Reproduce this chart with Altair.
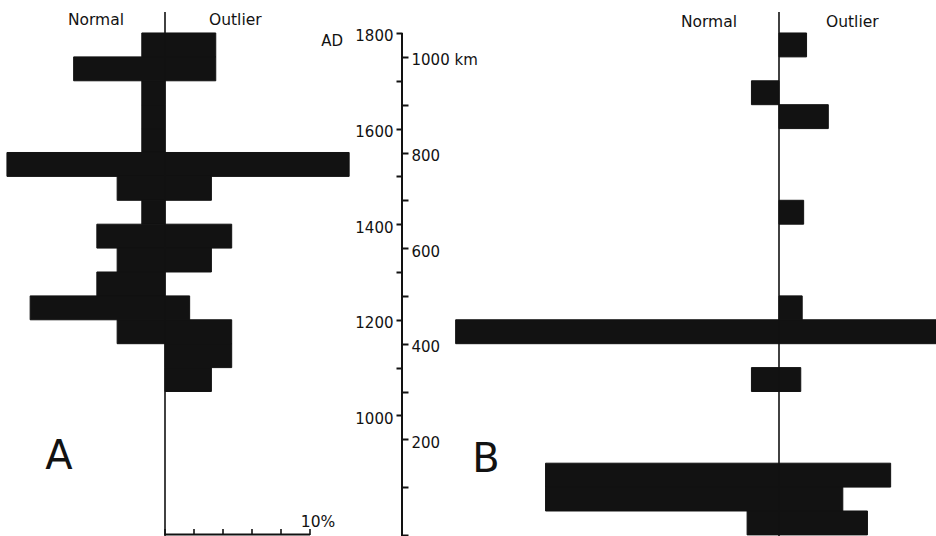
import altair as alt
import pandas as pd

# ---- data -----------------------------------------------------------------
BIN = 50  # bin length in years

# Panel A: start year of each 50-year bin, % "Normal" (left) and % "Outlier" (right)
a_start = [1750, 1700, 1650, 1600, 1550, 1500, 1450, 1400, 1350, 1300, 1250, 1200, 1150, 1100, 1050]
a_normal = [1.6, 6.3, 1.6, 1.6, 1.6, 10.9, 3.3, 1.6, 4.7, 3.3, 4.7, 9.3, 3.3, 0.0, 0.0]
a_outlier = [3.5, 3.5, 0.0, 0.0, 0.0, 12.7, 3.2, 0.0, 4.6, 3.2, 0.0, 1.7, 4.6, 4.6, 3.2]

# Panel B
b_start = [1750, 1650, 1600, 1400, 1200, 1150, 1050, 850, 800, 750]
b_normal = [0.0, 1.9, 0.0, 0.0, 0.0, 22.3, 1.9, 16.1, 16.1, 2.2]
b_outlier = [1.9, 0.0, 3.4, 1.7, 1.6, 12.0, 1.5, 7.7, 4.4, 6.1]

# central axis: years AD (left) and distance in km (right)
year_ticks = [1000, 1100, 1200, 1300, 1400, 1500, 1600, 1700, 1800]
km_ticks = [0, 100, 200, 300, 400, 500, 600, 700, 800, 900, 1000]
scale_bar_ticks = [0, 2, 4, 6, 8, 10]  # percent

# ---- layout / style -------------------------------------------------------
W, H = 936, 536
PX_PER_PCT = 14.5
A_CENTER_PX, B_CENTER_PX, AXIS_PX = 165, 779, 402
YEAR_MIN, YEAR_MAX = 747.7, 1869.0
KM_MIN, KM_MAX = -2.1, 1119.2
FONT = "DejaVu Sans"
INK = "#121212"

year_scale = alt.Scale(domain=[YEAR_MIN, YEAR_MAX], nice=False, zero=False)
km_scale = alt.Scale(domain=[KM_MIN, KM_MAX], nice=False, zero=False)


def pct_scale(center_px):
    return alt.Scale(
        domain=[-center_px / PX_PER_PCT, (W - center_px) / PX_PER_PCT],
        nice=False,
        zero=False,
    )


def bins_frame(start, normal, outlier):
    return pd.DataFrame(
        {
            "start": start,
            "end": [s + BIN for s in start],
            "lo": [-n for n in normal],
            "hi": outlier,
        }
    )


def panel(df, center_px, gap_left, gap_right, head_y, letter, letter_x, letter_y):
    xs = pct_scale(center_px)
    zero = pd.DataFrame({"v": [0.0]})

    bars = (
        alt.Chart(df)
        .mark_rect(color=INK, stroke=INK, strokeWidth=1, clip=True)
        .encode(
            x=alt.X("lo:Q", scale=xs, axis=None),
            x2="hi:Q",
            y=alt.Y("start:Q", scale=year_scale, axis=None),
            y2="end:Q",
        )
    )
    center = (
        alt.Chart(zero)
        .mark_rule(color=INK, strokeWidth=1.6)
        .encode(x=alt.X("v:Q", scale=xs, axis=None), y=alt.value(12), y2=alt.value(H))
    )
    normal_lbl = (
        alt.Chart(zero)
        .mark_text(text="Normal", align="right", baseline="middle", dx=-gap_left,
                   font=FONT, fontSize=15.5, color=INK)
        .encode(x=alt.X("v:Q", scale=xs, axis=None), y=alt.value(head_y))
    )
    outlier_lbl = (
        alt.Chart(zero)
        .mark_text(text="Outlier", align="left", baseline="middle", dx=gap_right,
                   font=FONT, fontSize=15.5, color=INK)
        .encode(x=alt.X("v:Q", scale=xs, axis=None), y=alt.value(head_y))
    )
    letter_mark = (
        alt.Chart(zero)
        .mark_text(text=letter, align="center", baseline="middle",
                   font=FONT, fontSize=40, color=INK)
        .encode(x=alt.value(letter_x), y=alt.value(letter_y))
    )
    return [bars, center, normal_lbl, outlier_lbl, letter_mark], xs


# panel A with its percentage scale bar
a_layers, a_xs = panel(bins_frame(a_start, a_normal, a_outlier),
                       A_CENTER_PX, 41, 44, 20, "A", 59, 457)
bar_df = pd.DataFrame({"t": scale_bar_ticks})
scale_base = (
    alt.Chart(pd.DataFrame({"lo": [scale_bar_ticks[0]], "hi": [scale_bar_ticks[-1]]}))
    .mark_rule(color=INK, strokeWidth=2)
    .encode(x=alt.X("lo:Q", scale=a_xs, axis=None), x2="hi:Q", y=alt.value(534.5))
)
scale_ticks = (
    alt.Chart(bar_df)
    .mark_rule(color=INK, strokeWidth=1.6)
    .encode(x=alt.X("t:Q", scale=a_xs, axis=None), y=alt.value(529), y2=alt.value(535))
)
scale_lbl = (
    alt.Chart(pd.DataFrame({"t": [scale_bar_ticks[-1]]}))
    .mark_text(text="10%", align="center", baseline="middle", dx=8,
               font=FONT, fontSize=15.5, color=INK)
    .encode(x=alt.X("t:Q", scale=a_xs, axis=None), y=alt.value(522))
)
panel_a = alt.layer(*a_layers, scale_base, scale_ticks, scale_lbl)

b_layers, _ = panel(bins_frame(b_start, b_normal, b_outlier),
                    B_CENTER_PX, 42, 47, 22, "B", 486, 460)
panel_b = alt.layer(*b_layers)

# central axis: years on the left side of the line
year_axis = alt.Axis(
    orient="left", offset=-AXIS_PX, values=year_ticks, format="d",
    labelExpr="datum.value % 200 == 0 ? datum.label : ''",
    domain=False, grid=False, ticks=True, tickSize=6, tickWidth=2, tickColor=INK,
    labelFont=FONT, labelFontSize=15, labelColor=INK, labelPadding=3, labelOffset=3,
    title=None,
)
axis_line = (
    alt.Chart(pd.DataFrame({"top": [year_ticks[-1]], "bottom": [YEAR_MIN]}))
    .mark_rule(color=INK, strokeWidth=2)
    .encode(x=alt.value(AXIS_PX), y=alt.Y("top:Q", scale=year_scale, axis=year_axis), y2="bottom:Q")
)
ad_lbl = (
    alt.Chart(pd.DataFrame({"v": [0]}))
    .mark_text(text="AD", align="right", baseline="middle", font=FONT, fontSize=15, color=INK)
    .encode(x=alt.value(343), y=alt.value(41))
)
year_part = alt.layer(axis_line, ad_lbl)

# distance in km on the right side of the same line
km_axis = alt.Axis(
    orient="right", offset=-(W - AXIS_PX), values=km_ticks, format="d",
    labelExpr="datum.value == 1000 ? '1000 km' : (datum.value > 0 && datum.value % 200 == 0 ? datum.label : '')",
    domain=False, grid=False, ticks=True, tickSize=6, tickWidth=2, tickColor=INK,
    labelFont=FONT, labelFontSize=15, labelColor=INK, labelPadding=3, labelOffset=3,
    title=None,
)
km_part = (
    alt.Chart(pd.DataFrame({"km": km_ticks}))
    .mark_point(opacity=0)
    .encode(x=alt.value(AXIS_PX), y=alt.Y("km:Q", scale=km_scale, axis=km_axis))
)

chart = (
    alt.layer(panel_a, panel_b, year_part, km_part)
    .resolve_scale(x="independent", y="independent")
    .properties(width=W, height=H, padding=0, autosize=alt.AutoSizeParams(type="none"),
                background="white")
    .configure_view(stroke=None)
)

chart.save("out.html", embed_options={"renderer": "svg", "actions": False})
